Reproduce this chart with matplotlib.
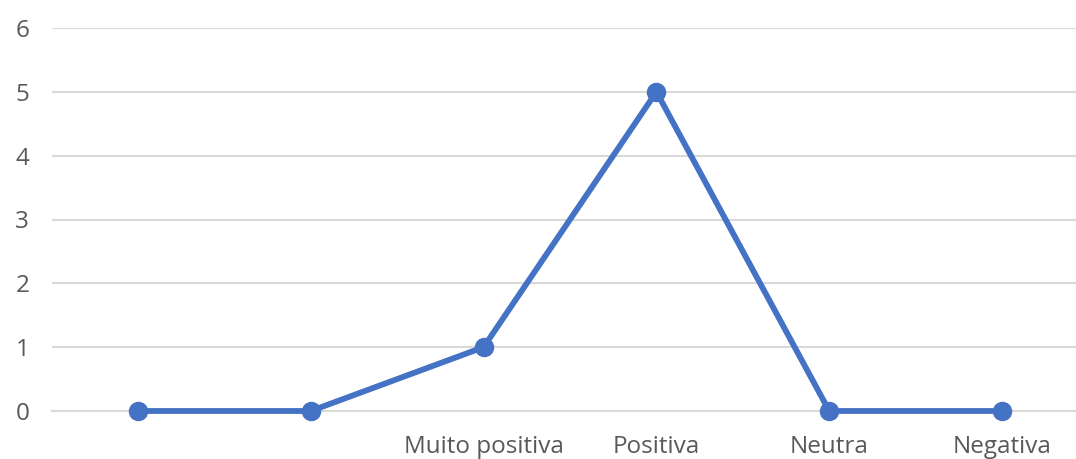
import matplotlib.pyplot as plt

categories = ['', '', 'Muito positiva', 'Positiva', 'Neutra', 'Negativa']
values = [0, 0, 1, 5, 0, 0]
y_ticks = [0, 1, 2, 3, 4, 5, 6]

plt.rcParams['font.family'] = ['Open Sans', 'DejaVu Sans']

fig = plt.figure(figsize=(10.76, 4.59), dpi=100)
ax = fig.add_axes([51.5 / 1076, 48 / 459, 1037 / 1076, 383 / 459])

x = list(range(len(categories)))
ax.plot(x, values, color='#4472C4', linewidth=4.2, marker='o',
        markersize=13, solid_capstyle='round', zorder=3, clip_on=False)

ax.set_xlim(-0.5, len(categories) - 0.5)
ax.set_ylim(0, 6)
ax.set_yticks(y_ticks)
ax.set_xticks(x)
ax.set_xticklabels(categories)

ax.grid(axis='y', color='#D9D9D9', linewidth=1.5)
ax.set_axisbelow(True)
for side in ['top', 'right', 'left']:
    ax.spines[side].set_visible(False)
ax.spines['bottom'].set_color('#D9D9D9')
ax.spines['bottom'].set_linewidth(1.5)

ax.tick_params(axis='both', length=0, labelsize=17.5, labelcolor='#595959')
ax.tick_params(axis='y', pad=16)
ax.tick_params(axis='x', pad=17.5)

fig.savefig('out.png', dpi=100)
